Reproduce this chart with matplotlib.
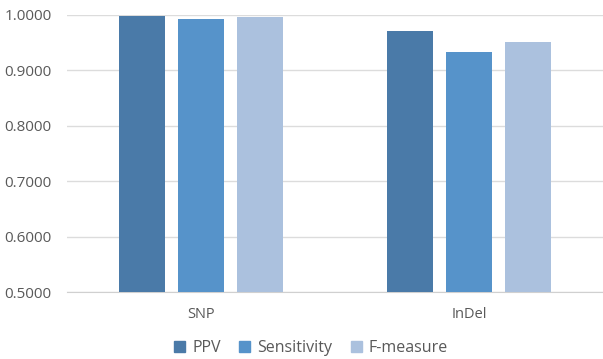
import matplotlib
matplotlib.use("Agg")
import matplotlib.pyplot as plt
import numpy as np
from matplotlib.patches import Patch

categories = ["SNP", "InDel"]
series = ["PPV", "Sensitivity", "F-measure"]
ppv = [0.9980, 0.9710]
sensitivity = [0.9932, 0.9327]
f_measure = [0.9958, 0.9507]
yticks = [0.5, 0.6, 0.7, 0.8, 0.9, 1.0]

colors = ["#4a7aa8", "#5693ca", "#abc1de"]
values = [ppv, sensitivity, f_measure]

plt.rcParams['font.family'] = ['Open Sans', 'DejaVu Sans']

fig = plt.figure(figsize=(6.03, 3.59), dpi=100)
ax = fig.add_axes([0.111, 0.1866, 0.889, 0.772])

x = np.arange(len(categories))
width = 0.172
step = 0.22
for i, (vals, c) in enumerate(zip(values, colors)):
    ax.bar(x + (i - 1) * step, [v - 0.5 for v in vals], width, bottom=0.5,
           color=c, zorder=3)

ax.set_xlim(-0.5, 1.5)
ax.set_ylim(0.5, 1.0)
ax.set_yticks(yticks)
ax.set_yticklabels([f"{t:.4f}" for t in yticks], fontsize=11, color="#595959")
ax.set_xticks(x)
ax.set_xticklabels(categories, fontsize=10.5, color="#595959")
ax.tick_params(axis="both", length=0)
ax.tick_params(axis="x", pad=11)
ax.tick_params(axis="y", pad=11)
ax.grid(axis="y", color="#dcdcdc", linewidth=1, zorder=0)
for s in ["top", "right", "left"]:
    ax.spines[s].set_visible(False)
ax.spines["bottom"].set_color("#d0d0d0")

handles = [Patch(color=c, label=s) for c, s in zip(colors, series)]
fig.legend(handles=handles, loc="center", bbox_to_anchor=(0.516, 0.03),
           ncol=3, frameon=False, fontsize=11.5, handlelength=0.68,
           handleheight=0.68, handletextpad=0.45, columnspacing=1.15,
           labelcolor="#595959")

fig.savefig("out.png", dpi=100)
